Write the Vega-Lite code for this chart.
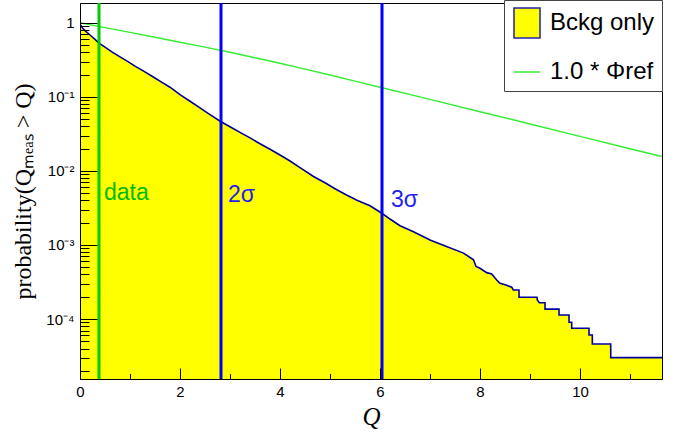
{
  "$schema": "https://vega.github.io/schema/vega-lite/v6.json",
  "width": 582,
  "height": 376,
  "autosize": {"type": "none"},
  "padding": {"left": 80, "top": 3, "right": 21, "bottom": 53},
  "background": "white",
  "config": {
    "view": {"stroke": "black", "strokeWidth": 1},
    "axis": {"grid": false, "domainColor": "black", "tickColor": "black", "labelColor": "black", "titleColor": "black", "labelFont": "Liberation Sans", "labelFontSize": 15, "labelFlush": false, "labelOverlap": false}
  },
  "datasets": {
    "bg": [
      {"q": 0, "p": 0.955}, {"q": 0.05, "p": 0.851}, {"q": 0.1, "p": 0.785}, {"q": 0.2, "p": 0.684},
      {"q": 0.3, "p": 0.596}, {"q": 0.38, "p": 0.531}, {"q": 0.5, "p": 0.468}, {"q": 0.63, "p": 0.407},
      {"q": 0.8, "p": 0.347}, {"q": 0.96, "p": 0.299}, {"q": 1.1, "p": 0.26}, {"q": 1.29, "p": 0.219},
      {"q": 1.45, "p": 0.188}, {"q": 1.63, "p": 0.158}, {"q": 1.8, "p": 0.135}, {"q": 2.0, "p": 0.107},
      {"q": 2.2, "p": 0.0871}, {"q": 2.4, "p": 0.0708}, {"q": 2.6, "p": 0.0575}, {"q": 2.82, "p": 0.0461},
      {"q": 3.0, "p": 0.0394}, {"q": 3.2, "p": 0.0331}, {"q": 3.4, "p": 0.0279}, {"q": 3.6, "p": 0.0233},
      {"q": 3.8, "p": 0.0196}, {"q": 4.0, "p": 0.0164}, {"q": 4.2, "p": 0.0136}, {"q": 4.4, "p": 0.0111},
      {"q": 4.67, "p": 0.00841}, {"q": 4.9, "p": 0.00692}, {"q": 5.1, "p": 0.00575}, {"q": 5.33, "p": 0.00473},
      {"q": 5.55, "p": 0.00398}, {"q": 5.8, "p": 0.00339}, {"q": 6.03, "p": 0.0027}, {"q": 6.2, "p": 0.00224},
      {"q": 6.4, "p": 0.00182}, {"q": 6.67, "p": 0.00151}, {"q": 7.0, "p": 0.00117}, {"q": 7.33, "p": 0.000955},
      {"q": 7.67, "p": 0.000776}, {"q": 7.87, "p": 0.000631}, {"q": 7.92, "p": 0.000513}, {"q": 8.0, "p": 0.000485},
      {"q": 8.134, "p": 0.000423}, {"q": 8.234, "p": 0.000406}, {"q": 8.28, "p": 0.000373}, {"q": 8.334, "p": 0.000337},
      {"q": 8.4, "p": 0.000304}, {"q": 8.52, "p": 0.000288}, {"q": 8.634, "p": 0.000269}, {"q": 8.666, "p": 0.000247},
      {"q": 8.78, "p": 0.000247}, {"q": 8.781, "p": 0.000197}, {"q": 9.14, "p": 0.000197}, {"q": 9.146, "p": 0.000181},
      {"q": 9.186, "p": 0.000166}, {"q": 9.3, "p": 0.000166}, {"q": 9.301, "p": 0.000136}, {"q": 9.58, "p": 0.000136},
      {"q": 9.581, "p": 0.0001135}, {"q": 9.78, "p": 0.0001135}, {"q": 9.781, "p": 0.0000906}, {"q": 9.834, "p": 0.0000906},
      {"q": 9.835, "p": 0.0000752}, {"q": 10.18, "p": 0.0000752}, {"q": 10.181, "p": 0.000061}, {"q": 10.246, "p": 0.000061},
      {"q": 10.247, "p": 0.0000461}, {"q": 10.614, "p": 0.0000461}, {"q": 10.615, "p": 0.0000301}, {"q": 11.64, "p": 0.0000301}
    ],
    "ref": [
      {"q": 0, "p": 1.0}, {"q": 0.5, "p": 0.861}, {"q": 1, "p": 0.741}, {"q": 1.5, "p": 0.637},
      {"q": 2, "p": 0.547}, {"q": 2.5, "p": 0.469}, {"q": 3, "p": 0.4}, {"q": 3.5, "p": 0.337},
      {"q": 4, "p": 0.284}, {"q": 4.5, "p": 0.237}, {"q": 5, "p": 0.197}, {"q": 5.5, "p": 0.163},
      {"q": 6, "p": 0.135}, {"q": 7, "p": 0.0923}, {"q": 8, "p": 0.063}, {"q": 9, "p": 0.043},
      {"q": 10, "p": 0.0293}, {"q": 11, "p": 0.01995}, {"q": 11.64, "p": 0.01563}
    ],
    "dataline": [{"q": 0.38}],
    "sigmas": [{"q": 2.82}, {"q": 6.04}],
    "datalabel": [{"q": 0.48, "p": 0.00503, "t": "data"}],
    "sigmalabels": [{"q": 2.96, "p": 0.00473, "t": "2σ"}, {"q": 6.22, "p": 0.00405, "t": "3σ"}]
  },
  "layer": [
    {
      "data": {"name": "bg"},
      "mark": {"type": "area", "clip": true, "interpolate": "linear"},
      "encoding": {
        "x": {
          "field": "q", "type": "quantitative",
          "scale": {"domain": [0, 11.64], "nice": false, "zero": false},
          "axis": {
            "zindex": 2,
            "title": "Q", "titleFont": "Liberation Serif", "titleFontStyle": "italic", "titleFontWeight": "normal",
            "titleFontSize": 25, "titleBaseline": "alphabetic", "titleY": 45,
            "values": [0, 0.5, 1, 1.5, 2, 2.5, 3, 3.5, 4, 4.5, 5, 5.5, 6, 6.5, 7, 7.5, 8, 8.5, 9, 9.5, 10, 10.5, 11, 11.5],
            "labelExpr": "datum.value % 2 === 0 ? format(datum.value, 'd') : ''",
            "tickSize": {"condition": {"test": "datum.value % 2 === 0", "value": -11}, "value": -5.5},
            "labelPadding": 16
          }
        },
        "y": {
          "field": "p", "type": "quantitative",
          "scale": {"type": "log", "domain": [0.0000155, 1.85], "nice": false},
          "axis": {
            "zindex": 2,
            "title": "probability(Qₘₑₐₛ > Q)", "titleFont": "Liberation Serif", "titleFontWeight": "normal",
            "titleFontSize": 24, "titleX": -57, "titleBaseline": "middle",
            "values": [0.00002, 0.00003, 0.00004, 0.00005, 0.00006, 0.00007, 0.00008, 0.00009, 0.0001, 0.0002, 0.0003, 0.0004, 0.0005, 0.0006, 0.0007, 0.0008, 0.0009, 0.001, 0.002, 0.003, 0.004, 0.005, 0.006, 0.007, 0.008, 0.009, 0.01, 0.02, 0.03, 0.04, 0.05, 0.06, 0.07, 0.08, 0.09, 0.1, 0.2, 0.3, 0.4, 0.5, 0.6, 0.7, 0.8, 0.9, 1],
            "labelExpr": "abs(log(datum.value)/LN10 - round(log(datum.value)/LN10)) < 0.001 ? (round(log(datum.value)/LN10) === 0 ? '1' : '10' + ['⁰','⁻¹','⁻²','⁻³','⁻⁴','⁻⁵'][-round(log(datum.value)/LN10)]) : ''",
            "tickSize": {"condition": {"test": "abs(log(datum.value)/LN10 - round(log(datum.value)/LN10)) < 0.001", "value": -17}, "value": -9},
            "labelPadding": 23
          }
        },
        "y2": {"datum": 0.0000155},
        "fill": {
          "datum": "Bckg only", "type": "nominal",
          "scale": {"domain": ["Bckg only", "1.0 * Φref"], "range": ["#ffff00", "#33ee33"]},
          "legend": {
            "orient": "none", "legendX": 424, "legendY": -3, "title": null,
            "padding": 7, "rowPadding": 15, "labelFont": "Liberation Sans", "labelFontSize": 24,
            "labelColor": "black", "labelOffset": 7, "labelLimit": 400,
            "strokeColor": "#444", "fillColor": "white", "symbolSize": 900,
            "encode": {
              "symbols": {
                "update": {
                  "shape": {"signal": "datum.value === 'Bckg only' ? 'M-0.867,-1H0.867V1H-0.867Z' : 'M-0.867,0H0.867'"},
                  "size": {"value": 900},
                  "fill": {"signal": "datum.value === 'Bckg only' ? '#ffff00' : 'transparent'"},
                  "stroke": {"signal": "datum.value === 'Bckg only' ? '#2222aa' : '#33ee33'"},
                  "strokeWidth": {"value": 1.5},
                  "opacity": {"value": 1},
                  "fillOpacity": {"value": 1}
                }
              }
            }
          }
        }
      }
    },
    {
      "data": {"name": "bg"},
      "mark": {"type": "line", "clip": true, "color": "#000099", "strokeWidth": 1.6},
      "encoding": {
        "x": {"field": "q", "type": "quantitative"},
        "y": {"field": "p", "type": "quantitative"}
      }
    },
    {
      "data": {"name": "ref"},
      "mark": {"type": "line", "clip": true, "color": "#33ee33", "strokeWidth": 1.4},
      "encoding": {
        "x": {"field": "q", "type": "quantitative"},
        "y": {"field": "p", "type": "quantitative"}
      }
    },
    {
      "data": {"name": "dataline"},
      "mark": {"type": "rule", "color": "#00cc00", "strokeWidth": 3},
      "encoding": {"x": {"field": "q", "type": "quantitative"}}
    },
    {
      "data": {"name": "sigmas"},
      "mark": {"type": "rule", "color": "#0000ff", "strokeWidth": 3},
      "encoding": {"x": {"field": "q", "type": "quantitative"}}
    },
    {
      "data": {"name": "datalabel"},
      "mark": {"type": "text", "align": "left", "baseline": "middle", "font": "Liberation Sans", "fontSize": 23, "color": "#00bb00"},
      "encoding": {
        "x": {"field": "q", "type": "quantitative"},
        "y": {"field": "p", "type": "quantitative"},
        "text": {"field": "t"}
      }
    },
    {
      "data": {"name": "sigmalabels"},
      "mark": {"type": "text", "align": "left", "baseline": "middle", "font": "Liberation Sans", "fontSize": 23, "color": "#2222ee"},
      "encoding": {
        "x": {"field": "q", "type": "quantitative"},
        "y": {"field": "p", "type": "quantitative"},
        "text": {"field": "t"}
      }
    }
  ]
}
